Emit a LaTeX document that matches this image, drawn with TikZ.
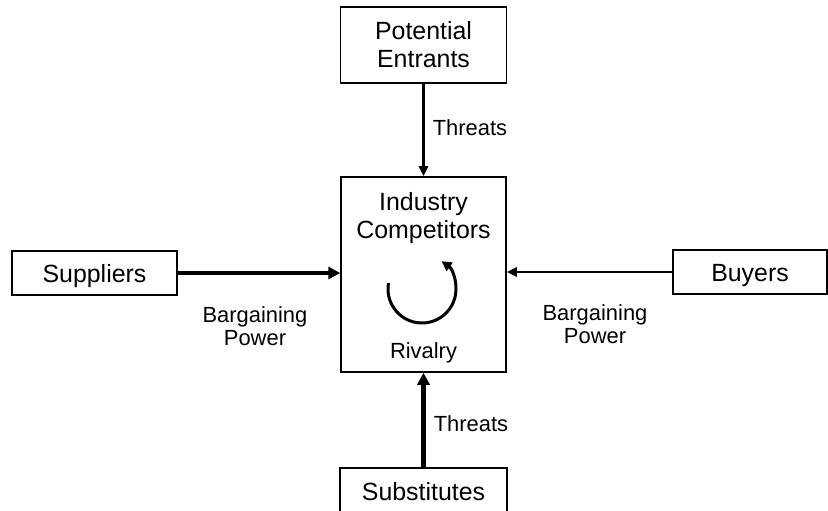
\documentclass[tikz,border=0pt]{standalone}
\usepackage{fontspec}
\setmainfont{Liberation Sans}
\usetikzlibrary{arrows.meta, positioning}

\tikzset{
  box/.style={draw, line width=1.5bp, align=center, inner sep=0pt,
    font=\fontsize{25}{28}\selectfont},
  onebox/.style={box, text height=21bp, text depth=1bp},
  lbl/.style={align=center, inner sep=0pt, font=\fontsize{22}{23}\selectfont},
  thinarrow/.style={line width=2.5bp, -{Triangle[length=10bp,width=9bp]}},
  thickarrow/.style={line width=4.5bp, -{Triangle[length=12bp,width=12bp]}},
  spinarrow/.style={line width=3bp, -{Triangle[length=10bp,width=10bp]}}
}

\begin{document}
\begin{tikzpicture}[x=1bp, y=-1bp]
    \useasboundingbox (0,0) rectangle (828,511);

    % Boxes
    \node[box, minimum width=166bp, minimum height=76bp] (entrants) at (423.5,45) {Potential\\Entrants};
    \node[box, minimum width=165bp, minimum height=195bp] (industry) at (423.5,274.5) {};
    \node[onebox, minimum width=165bp, minimum height=44bp] (suppliers) at (94.5,273) {Suppliers};
    \node[onebox, minimum width=154bp, minimum height=44bp] (buyers) at (750,272) {Buyers};
    \node[onebox, minimum width=167bp, minimum height=44bp] (substitutes) at (423.5,490) {Substitutes};

    % Inside the industry box
    \node[lbl, font=\fontsize{25}{28}\selectfont, anchor=north] (competitors) at (423.5,192) {Industry\\Competitors};
    \node[lbl, anchor=base] (rivalry) at (423.5,358) {Rivalry};
    \coordinate (spin) at (422,289);
    \draw[spinarrow] (spin) ++(190:34) arc[start angle=190, end angle=-55, radius=34];

    % Arrows
    \draw[thinarrow] (entrants.south) -- (industry.north) node[lbl, pos=0.48, right=8bp] (threatstop) {Threats};
    \draw[thickarrow] (substitutes.north) -- (industry.south) node[lbl, pos=0.46, right=8bp] (threatsbottom) {Threats};
    \draw[thickarrow] (suppliers.east) -- (suppliers.east -| industry.west);
    \draw[thinarrow] (buyers.west) -- (buyers.west -| industry.east);

    % Labels
    \node[lbl] (powerleft) at (255,326) {Bargaining\\Power};
    \node[lbl] (powerright) at (595,324) {Bargaining\\Power};
\end{tikzpicture}
\end{document}
